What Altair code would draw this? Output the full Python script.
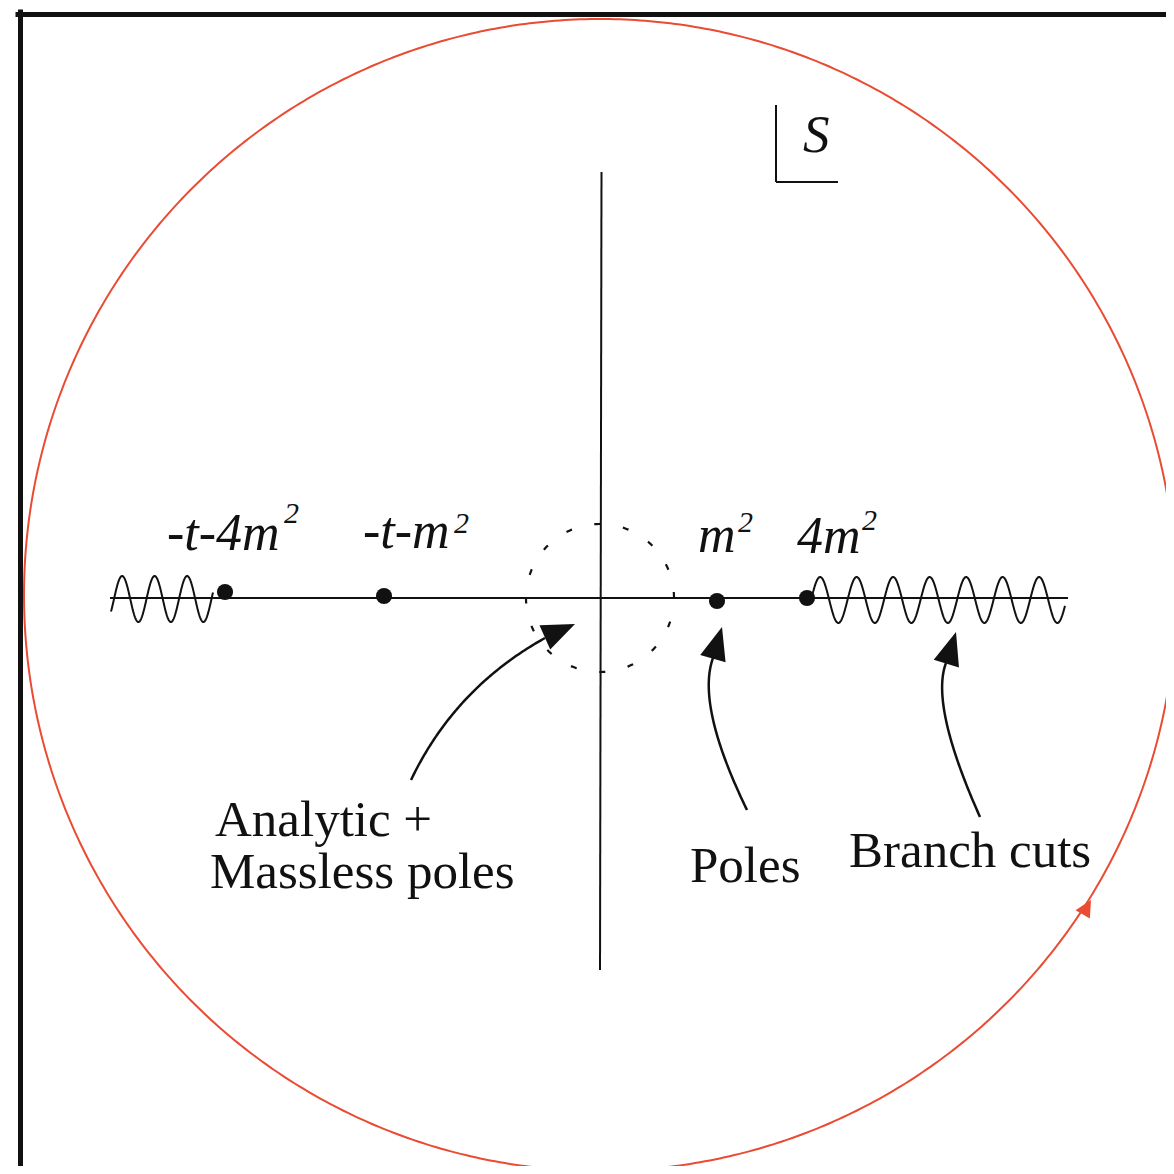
import numpy as np
import pandas as pd
import altair as alt

# Diagram coordinates: origin where the two axes cross, 1 unit = 1 px, y upwards.
# ---- data ------------------------------------------------------------------
pole_x = [-375, -216, 117, 207]
pole_y = [6, 2, -3, 0]

label_text = ["-t-4m", "-t-m", "m", "4m"]
label_x = [-433, -237, 98, 197]
label_y = [48, 50, 46, 45]

sup_text = ["2", "2", "2", "2"]
sup_x = [-316, -146, 138, 262]
sup_y = [75, 65, 66, 68]

note_text = ["Analytic +", "Massless poles", "Poles", "Branch cuts"]
note_x = [-385, -390, 90, 249]
note_y = [-238, -290, -284, -269]

plane_text = ["S"]
plane_x = [203]
plane_y = [446]

# real axis / imaginary axis segments
axis_x1 = [-490, 1.5]
axis_y1 = [0, 426]
axis_x2 = [468, 0]
axis_y2 = [0, -372]

# "L" corner of the s-plane marker
corner_x1 = [176, 176]
corner_y1 = [493, 416]
corner_x2 = [176, 238]
corner_y2 = [416, 416]

# branch cuts (wavy lines): start, end, phase origin, period, amplitude, centre
cut_start = [-489, 211]
cut_end = [-387, 465]
cut_phase0 = [-486, 211]
cut_period = [32.5, 36.5]
cut_amp = [23, 23]
cut_centre = [-1, -2]

# curved arrows (quadratic curves): start, control, end
arrow_p0 = [(-189, -182), (147, -212), (380, -219)]
arrow_p1 = [(-145, -90), (96, -107), (330, -107)]
arrow_p2 = [(-55, -40), (113, -60), (346, -65)]
head_x = [-25, 122, 356]
head_y = [-26, -29, -34]
head_angle = [66, 16, 17]

# contours
contour_centre = (0, 3)
contour_radius = 576
contour_head = (491, -302, 30)
small_centre = (0, 0)
small_radius = 74

# border frame
frame_v = (-579.5, 586, -600)
frame_h = (583.5, -582, 600)

RED = "#EA4B33"
INK = "#111111"

# ---- helpers ---------------------------------------------------------------
XS = alt.Scale(domain=[-592, 566], nice=False, zero=False)
YS = alt.Scale(domain=[-568, 590], nice=False, zero=False)


def X(f):
    return alt.X(f, type="quantitative", scale=XS, axis=None)


def Y(f):
    return alt.Y(f, type="quantitative", scale=YS, axis=None)


def circle_df(c, r, n=720):
    t = np.linspace(0, 2 * np.pi, n + 1)
    return pd.DataFrame({"x": c[0] + r * np.cos(t), "y": c[1] + r * np.sin(t), "i": np.arange(n + 1)})


layers = []

# frame
frame_df = pd.DataFrame({
    "x": [frame_v[0], frame_h[1]], "y": [frame_v[1], frame_h[0]],
    "x2": [frame_v[0], frame_h[2]], "y2": [frame_v[2], frame_h[0]],
})
layers.append(alt.Chart(frame_df).mark_rule(color=INK, strokeWidth=5, strokeCap="square").encode(
    x=X("x"), y=Y("y"), x2="x2", y2="y2"))

# red contour
layers.append(alt.Chart(circle_df(contour_centre, contour_radius)).mark_line(color=RED, strokeWidth=2).encode(
    x=X("x"), y=Y("y"), order="i:Q"))

# dashed small circle
layers.append(alt.Chart(circle_df(small_centre, small_radius)).mark_line(
    color=INK, strokeWidth=2.2, strokeDash=[6, 23]).encode(x=X("x"), y=Y("y"), order="i:Q"))

# axes
axes_df = pd.DataFrame({"x": axis_x1, "y": axis_y1, "x2": axis_x2, "y2": axis_y2})
layers.append(alt.Chart(axes_df).mark_rule(color=INK, strokeWidth=2).encode(
    x=X("x"), y=Y("y"), x2="x2", y2="y2"))

# corner marker
corner_df = pd.DataFrame({"x": corner_x1, "y": corner_y1, "x2": corner_x2, "y2": corner_y2})
layers.append(alt.Chart(corner_df).mark_rule(color=INK, strokeWidth=2).encode(
    x=X("x"), y=Y("y"), x2="x2", y2="y2"))

# wavy branch cuts
rows = []
for k in range(len(cut_start)):
    xs = np.arange(cut_start[k], cut_end[k] + 0.01, 0.5)
    ys = cut_centre[k] + cut_amp[k] * np.sin(2 * np.pi * (xs - cut_phase0[k]) / cut_period[k])
    for j, (a, b) in enumerate(zip(xs, ys)):
        rows.append({"x": a, "y": b, "i": j, "g": k})
cut_df = pd.DataFrame(rows)
layers.append(alt.Chart(cut_df).mark_line(color=INK, strokeWidth=2).encode(
    x=X("x"), y=Y("y"), order="i:Q", detail="g:N"))

# curved arrows
rows = []
t = np.linspace(0, 1, 80)
for k in range(len(arrow_p0)):
    p0, p1, p2 = np.array(arrow_p0[k]), np.array(arrow_p1[k]), np.array(arrow_p2[k])
    pts = ((1 - t) ** 2)[:, None] * p0 + (2 * (1 - t) * t)[:, None] * p1 + (t ** 2)[:, None] * p2
    for j, (a, b) in enumerate(pts):
        rows.append({"x": a, "y": b, "i": j, "g": k})
arrow_df = pd.DataFrame(rows)
layers.append(alt.Chart(arrow_df).mark_line(color=INK, strokeWidth=2.5).encode(
    x=X("x"), y=Y("y"), order="i:Q", detail="g:N"))

# arrow heads
head_df = pd.DataFrame({"x": head_x, "y": head_y, "a": head_angle})
layers.append(alt.Chart(head_df).mark_point(
    shape="M0,0L0.4,1L-0.4,1Z", filled=True, color=INK, opacity=1, size=4356, strokeWidth=0).encode(
    x=X("x"), y=Y("y"), angle=alt.Angle("a:Q", scale=None)))

red_head_df = pd.DataFrame({"x": [contour_head[0]], "y": [contour_head[1]], "a": [contour_head[2]]})
layers.append(alt.Chart(red_head_df).mark_point(
    shape="M0,0L0.5,1L-0.5,1Z", filled=True, color=RED, opacity=1, size=1100, strokeWidth=0).encode(
    x=X("x"), y=Y("y"), angle=alt.Angle("a:Q", scale=None)))

# poles
pole_df = pd.DataFrame({"x": pole_x, "y": pole_y})
layers.append(alt.Chart(pole_df).mark_circle(color=INK, opacity=1, size=260).encode(x=X("x"), y=Y("y")))

# italic labels
lab_df = pd.DataFrame({"x": label_x, "y": label_y, "t": label_text})
layers.append(alt.Chart(lab_df).mark_text(
    align="left", baseline="alphabetic", font="Liberation Serif", fontStyle="italic",
    fontSize=52, color=INK).encode(x=X("x"), y=Y("y"), text="t:N"))

sup_df = pd.DataFrame({"x": sup_x, "y": sup_y, "t": sup_text})
layers.append(alt.Chart(sup_df).mark_text(
    align="left", baseline="alphabetic", font="Liberation Serif", fontStyle="italic",
    fontSize=30, color=INK).encode(x=X("x"), y=Y("y"), text="t:N"))

plane_df = pd.DataFrame({"x": plane_x, "y": plane_y, "t": plane_text})
layers.append(alt.Chart(plane_df).mark_text(
    align="left", baseline="alphabetic", font="Liberation Serif", fontStyle="italic",
    fontSize=53, color=INK).encode(x=X("x"), y=Y("y"), text="t:N"))

# annotations
note_df = pd.DataFrame({"x": note_x, "y": note_y, "t": note_text})
layers.append(alt.Chart(note_df).mark_text(
    align="left", baseline="alphabetic", font="Liberation Serif",
    fontSize=51, color=INK).encode(x=X("x"), y=Y("y"), text="t:N"))

chart = alt.layer(*layers).properties(
    width=1158, height=1158, padding=0, autosize="none", background="white"
).configure_view(stroke=None)

chart.save("out.html", embed_options={"renderer": "svg", "actions": False})
